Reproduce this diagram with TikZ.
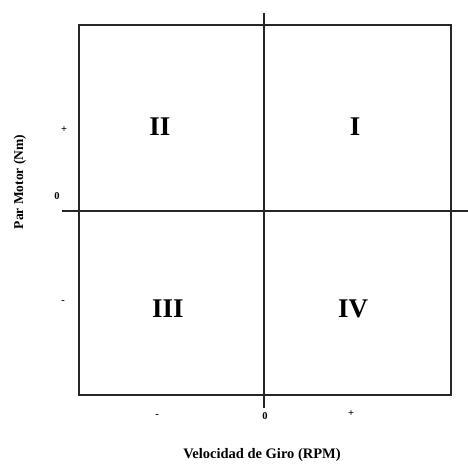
\documentclass[tikz,border=0pt]{standalone}
\usepackage{fontspec}
\setmainfont{Liberation Serif}
\begin{document}
\begin{tikzpicture}[x=1pt,y=-1pt,
  frame/.style={line width=2.2pt, draw=black!85},
  axis/.style={line width=2.4pt, draw=black!85},
  quad/.style={font=\fontsize{27}{27}\selectfont\bfseries, inner sep=0pt},
  tick/.style={font=\fontsize{10.5}{10.5}\selectfont\bfseries, inner sep=0pt},
  axlabel/.style={font=\fontsize{13.5}{13.5}\selectfont\bfseries, inner sep=0pt}]
\useasboundingbox (0,0) rectangle (468,463);
\coordinate (tl) at (79,25);
\coordinate (br) at (451,395);
\coordinate (vtop) at (264,13);
\coordinate (vbot) at (264,408);
\coordinate (hl) at (62,211);
\coordinate (hr) at (468,211);
\draw[frame] (tl) rectangle (br);
\draw[axis] (vtop) -- (vbot);
\draw[axis] (hl) -- (hr);
\node[quad] (q2) at (160,127) {II};
\node[quad] (q1) at (355,127) {I};
\node[quad] (q3) at (168,309) {III};
\node[quad] (q4) at (353,309) {IV};
\node[tick] (yp) at (64,130) {+};
\node[tick] (y0) at (57,196) {0};
\node[tick] (ym) at (63,302) {-};
\node[tick] (xm) at (157,416) {-};
\node[tick] (x0) at (265,416) {0};
\node[tick] (xp) at (351,414) {+};
\node[axlabel, font=\fontsize{14.5}{14.5}\selectfont\bfseries] (xl) at (262,455) {Velocidad de Giro (RPM)};
\node[axlabel, rotate=90] (yl) at (20,182) {Par Motor (Nm)};
\end{tikzpicture}
\end{document}
